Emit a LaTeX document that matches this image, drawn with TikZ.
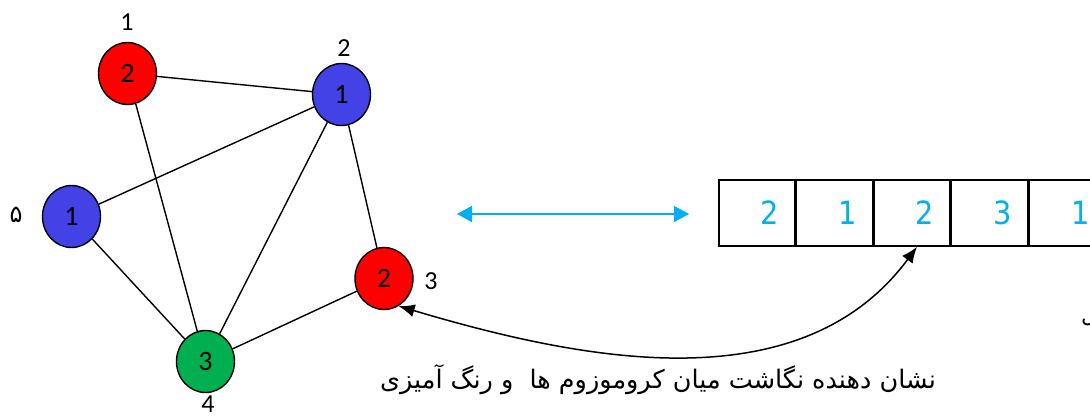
\documentclass[tikz,border=0pt]{standalone}
\usepackage{fontspec}
\setmainfont{Carlito}
\newfontfamily\arabicfont[Script=Arabic]{DejaVu Sans}
\newfontfamily\cellfont{DejaVu Sans Condensed}
\TeXXeTstate=1
\usetikzlibrary{shapes.geometric,arrows.meta}
\definecolor{vred}{RGB}{255,0,0}
\definecolor{vblue}{RGB}{66,66,230}
\definecolor{vgreen}{RGB}{0,176,80}
\definecolor{gcyan}{RGB}{0,176,240}
\tikzset{
  vtx/.style={ellipse,draw=black,line width=1.4pt,minimum width=58pt,minimum height=62pt,
    inner sep=0pt,font=\fontsize{28}{28}\selectfont},
  tag/.style={font=\fontsize{26}{26}\selectfont,inner sep=0pt},
  edge/.style={line width=1.4pt},
  gene/.style={draw=black,line width=1.6pt,minimum width=76pt,minimum height=66pt,inner sep=0pt,
    anchor=west,text=gcyan,font=\cellfont\fontsize{32}{32}\selectfont},
}
\begin{document}
\begin{tikzpicture}[x=1pt,y=-1pt]
\useasboundingbox (0,0) rectangle (1090,416);

% graph vertices (colour = assigned class)
\node[vtx,fill=vred]   (A) at (127.5,73.5)  {2};
\node[vtx,fill=vblue]  (B) at (341.5,94.5)  {1};
\node[vtx,fill=vred]   (C) at (384,278.5)   {2};
\node[vtx,fill=vgreen] (D) at (205.5,361.5) {3};
\node[vtx,fill=vblue]  (E) at (71.5,216.5)  {1};

% vertex numbers
\node[tag] (tA) at (127,22)  {1};
\node[tag] (tB) at (344,48)  {2};
\node[tag] (tC) at (431,281) {3};
\node[tag] (tD) at (208,404) {4};
\node[font=\arabicfont\fontsize{24}{24}\selectfont,inner sep=0pt] (tE) at (16,215) {۵};

% graph edges
\draw[edge] (A) -- (B);
\draw[edge] (A) -- (D);
\draw[edge] (B) -- (E);
\draw[edge] (B) -- (D);
\draw[edge] (B) -- (C);
\draw[edge] (E) -- (D);
\draw[edge] (C) -- (D);

% equivalence arrow
\coordinate (la) at (457,214);
\coordinate (ra) at (689,214);
\draw[gcyan,line width=1.6pt,{Triangle[length=15pt,width=16pt]}-{Triangle[length=15pt,width=16pt]}] (la) -- (ra);

% chromosome
\node[gene] (c1) at (718,213) {\hspace*{26pt}2};
\node[gene] (c2) at (c1.east) {\hspace*{26pt}1};
\node[gene] (c3) at (c2.east) {\hspace*{26pt}2};
\node[gene] (c4) at (c3.east) {\hspace*{26pt}3};
\node[gene] (c5) at (c4.east) {\hspace*{26pt}1};

% mapping between vertex and gene
\draw[line width=1.5pt,{Latex[length=16pt,width=13pt]}-{Latex[length=16pt,width=13pt]}]
  (C.-62) .. controls (580,360) and (800,405) .. ([xshift=5pt]c3.south);

\node[font=\arabicfont\fontsize{25.5}{25.5}\selectfont,inner sep=0pt] (cap) at (658,380)
  {\beginR نشان دهنده نگاشت میان کروموزوم ها~ و رنگ آمیزی\endR};

\node[font=\arabicfont\fontsize{22}{22}\selectfont,inner sep=0pt,anchor=base west] (cut) at (1081,322)
  {\beginR ل\endR};
\end{tikzpicture}
\end{document}
